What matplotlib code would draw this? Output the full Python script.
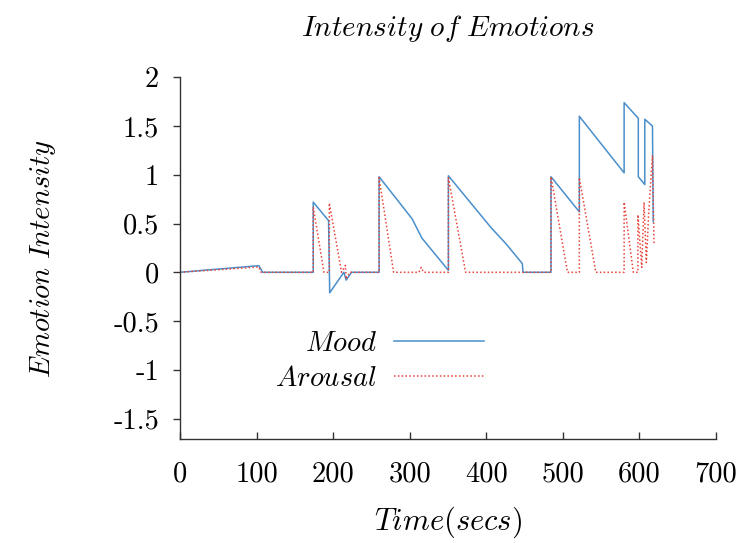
import matplotlib
matplotlib.use("Agg")
import matplotlib.pyplot as plt

plt.rcParams['mathtext.fontset'] = 'cm'
plt.rcParams['font.family'] = ['cmr10', 'DejaVu Serif']
plt.rcParams['axes.unicode_minus'] = False

# Data
mood_t = [0, 103, 108, 174, 174, 194, 195.5, 214, 217, 224, 260, 260, 303, 316, 350.5,
          350.5, 406, 426, 447, 448, 484.5, 484.5, 521.5, 521.5, 580, 580, 598.5, 598.5,
          607, 607, 617, 618]
mood_v = [0, 0.068, 0, 0, 0.72, 0.53, -0.21, 0.0, -0.08, 0, 0, 0.98, 0.55, 0.35, 0.02,
          0.99, 0.46, 0.29, 0.09, 0, 0, 0.98, 0.62, 1.60, 1.02, 1.74, 1.58, 0.98,
          0.90, 1.57, 1.50, 0.52]

arousal_t = [0, 103, 106, 174, 174, 188, 195, 195, 211, 216, 217, 222, 260, 260, 279,
             312, 315, 318, 350.5, 350.5, 373, 484.5, 484.5, 506, 521.5, 521.5, 543,
             580, 580, 592, 598, 598, 603, 606, 609, 612, 617, 619]
arousal_v = [0, 0.055, 0, 0, 0.67, 0, 0, 0.71, 0, 0.07, -0.07, 0, 0, 0.97, 0,
             0, 0.05, 0, 0, 0.97, 0, 0, 0.98, 0, 0, 0.97, 0,
             0, 0.72, 0, 0, 0.59, 0.05, 0.72, 0.10, 0.6, 1.2, 0.30]

xticks = [0, 100, 200, 300, 400, 500, 600, 700]
yticks = [-1.5, -1, -0.5, 0, 0.5, 1, 1.5, 2]
yticklabels = ['-1.5', '-1', '-0.5', '0', '0.5', '1', '1.5', '2']

fig = plt.figure(figsize=(7.41, 5.43), dpi=100)
ax = fig.add_axes([0.2429, 0.1910, 0.7234, 0.6666])

ax.plot(mood_t, mood_v, color='#4a8fcb', lw=1.1, label='$Mood$')
ax.plot(arousal_t, arousal_v, color='#e8443a', lw=1.1, ls=(0, (1, 1.5)), label='$Arousal$')

ax.set_xlim(0, 700)
ax.set_ylim(-1.713, 2)
ax.set_xticks(xticks)
ax.set_xticklabels([str(v) for v in xticks])
ax.set_yticks(yticks)
ax.set_yticklabels(yticklabels)

for s in ['top', 'right']:
    ax.spines[s].set_visible(False)
for s in ['left', 'bottom']:
    ax.spines[s].set_color('#333333')
    ax.spines[s].set_linewidth(1.0)

ax.tick_params(axis='y', direction='out', length=5, width=1, colors='#333333',
               labelcolor='black', labelsize=20.5, pad=10)
ax.tick_params(axis='x', direction='in', length=5, width=1, colors='#333333',
               labelcolor='black', labelsize=20.5, pad=16)

ax.set_title(r'$Intensity\ of\ Emotions$', fontsize=21, pad=30)
ax.set_xlabel(r'$Time(secs)$', fontsize=22, labelpad=12)
ax.set_ylabel(r'$Emotion\ Intensity$', fontsize=20.5, labelpad=40)

leg = ax.legend(loc='center', bbox_to_anchor=(0.372, 0.215), markerfirst=False,
                frameon=False, fontsize=20.5, handlelength=3.15, handletextpad=0.6,
                labelspacing=0.3)
for t in leg.get_texts():
    t.set_ha('right')

fig.savefig('out.png', dpi=100)
